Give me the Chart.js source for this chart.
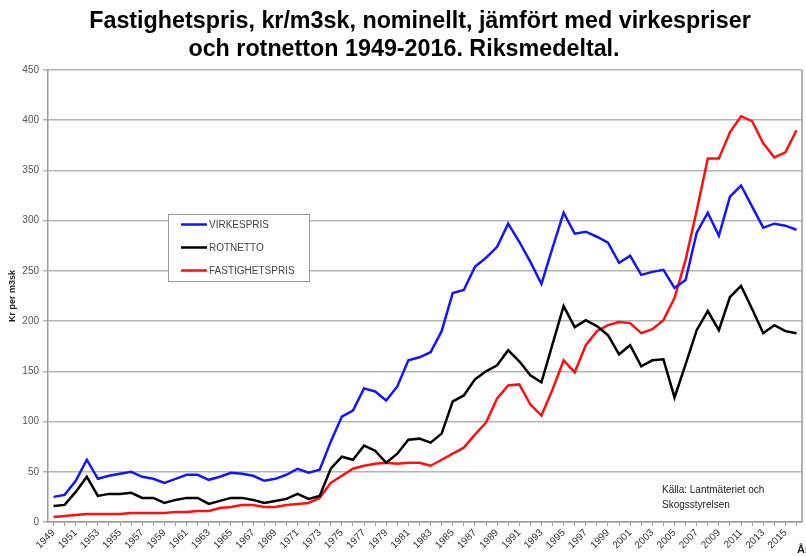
<!DOCTYPE html>
<html lang="sv">
<head>
<meta charset="utf-8">
<title>Fastighetspris, virkespris och rotnetto 1949-2016</title>
<script src="https://cdn.jsdelivr.net/npm/chart.js@4.4.1/dist/chart.umd.min.js"></script>
<style>
  html, body { margin: 0; padding: 0; background: #fff; }
  #wrap { width: 806px; height: 556px; position: relative; }
</style>
</head>
<body>
<div id="wrap"><canvas id="miGrafico"></canvas></div>
<script>
// Data (kr per m3sk, nominal)
const years = [
  1949, 1950, 1951, 1952, 1953, 1954, 1955, 1956, 1957, 1958, 1959, 1960,
  1961, 1962, 1963, 1964, 1965, 1966, 1967, 1968, 1969, 1970, 1971, 1972, 1973,
  1974, 1975, 1976, 1977, 1978, 1979, 1980, 1981, 1982, 1983, 1984, 1985, 1986,
  1987, 1988, 1989, 1990, 1991, 1992, 1993, 1994, 1995, 1996, 1997, 1998, 1999,
  2000, 2001, 2002, 2003, 2004, 2005, 2006, 2007, 2008, 2009, 2010, 2011, 2012,
  2013, 2014, 2015, 2016
];
const virkespris = [
  25, 27, 41, 62, 43, 46, 48, 50, 45, 43, 39, 43,
  47, 47, 42, 45, 49, 48, 46, 41, 43, 47, 53, 49, 52,
  80, 105, 111, 133, 130, 121, 135, 161, 164, 169, 190, 228, 231,
  254, 263, 274, 297, 279, 259, 237, 273, 308, 287, 289, 284, 278,
  258, 265, 246, 249, 251, 233, 241, 288, 308, 285, 324, 335, 314,
  293, 297, 295, 291
];
const rotnetto = [
  16, 17, 30, 45, 26, 28, 28, 29, 24, 24, 19, 22,
  24, 24, 18, 21, 24, 24, 22, 19, 21, 23, 28, 23, 26,
  53, 65, 62, 76, 71, 59, 68, 82, 83, 79, 88, 120, 126,
  142, 150, 156, 171, 160, 146, 139, 177, 215, 194, 201, 195, 186,
  167, 176, 155, 161, 162, 124, 157, 191, 210, 191, 224, 235, 212,
  188, 196, 190, 188
];
const fastighetspris = [
  5, 6, 7, 8, 8, 8, 8, 9, 9, 9, 9, 10,
  10, 11, 11, 14, 15, 17, 17, 15, 15, 17, 18, 19, 24,
  39, 46, 53, 56, 58, 59, 58, 59, 59, 56, 62, 68, 74,
  87, 99, 123, 136, 137, 117, 106, 132, 161, 149, 176, 190, 196,
  199, 198, 188, 192, 201, 223, 261, 310, 362, 362, 388, 404, 399,
  377, 363, 368, 390
];
const seriesNames = ['VIRKESPRIS', 'ROTNETTO', 'FASTIGHETSPRIS'];
const seriesColors = ['#1414ff', '#000000', '#ff1010'];

const titleLines = [
  'Fastighetspris, kr/m3sk, nominellt, jämfört med virkespriser',
  'och rotnetton 1949-2016. Riksmedeltal.'
];
const yLabel = 'Kr per m3sk';
const sourceLines = ['Källa: Lantmäteriet och', 'Skogsstyrelsen'];

const FONT = '"Liberation Sans", Arial, sans-serif';

// Extra drawing: title, axis label, legend box, source note, right border
const extras = {
  id: 'extras',
  afterDraw(chart) {
    const ctx = chart.ctx;
    const area = chart.chartArea;
    ctx.save();

    // right border of the plot
    ctx.strokeStyle = '#9a9a9a';
    ctx.lineWidth = 1.5;
    ctx.beginPath();
    ctx.moveTo(area.right, area.top);
    ctx.lineTo(area.right, area.bottom);
    ctx.stroke();

    // title
    ctx.fillStyle = '#000';
    ctx.font = 'bold 23.3px ' + FONT;
    ctx.textAlign = 'center';
    ctx.textBaseline = 'middle';
    ctx.fillText(titleLines[0], 420, 22);
    ctx.fillText(titleLines[1], 404, 50);

    // y axis label
    ctx.save();
    ctx.translate(13, 296);
    ctx.rotate(-Math.PI / 2);
    ctx.font = 'bold 9px ' + FONT;
    ctx.fillStyle = '#222';
    ctx.fillText(yLabel, 0, 0);
    ctx.restore();

    // legend box
    ctx.fillStyle = '#fff';
    ctx.fillRect(168, 214, 141, 67);
    ctx.strokeStyle = '#999';
    ctx.lineWidth = 1;
    ctx.strokeRect(168.5, 214.5, 141, 67);
    ctx.font = '10px ' + FONT;
    ctx.textAlign = 'left';
    chart.data.datasets.forEach((ds, i) => {
      const y = 224.5 + i * 23;
      ctx.strokeStyle = ds.borderColor;
      ctx.lineWidth = 2.5;
      ctx.beginPath();
      ctx.moveTo(181, y);
      ctx.lineTo(207, y);
      ctx.stroke();
      ctx.fillStyle = '#444';
      ctx.fillText(ds.label, 209, y + 0.5);
    });

    // source note
    ctx.fillStyle = '#222';
    ctx.font = '10px ' + FONT;
    ctx.fillText(sourceLines[0], 662, 490);
    ctx.fillText(sourceLines[1], 662, 505);

    // clipped axis title in the corner
    ctx.font = 'bold 11px ' + FONT;
    ctx.fillText('År', 797, 550);

    ctx.restore();
  }
};

// Build the chart
function crearGrafico() {
  const ctx = document.getElementById('miGrafico').getContext('2d');
  const series = [virkespris, rotnetto, fastighetspris];

  new Chart(ctx, {
    type: 'line',
    data: {
      labels: years,
      datasets: series.map((values, i) => ({
        label: seriesNames[i],
        data: values,
        borderColor: seriesColors[i],
        backgroundColor: seriesColors[i],
        borderWidth: 2.5,
        pointRadius: 0,
        tension: 0,
        fill: false
      }))
    },
    options: {
      responsive: true,
      maintainAspectRatio: false,
      animation: false,
      layout: { padding: { top: 70, right: 3, left: 0, bottom: 0 } },
      plugins: {
        legend: { display: false },
        title: { display: false },
        tooltip: { enabled: false }
      },
      scales: {
        x: {
          type: 'category',
          offset: true,
          afterFit: (scale) => { scale.height = 34; },
          border: { color: '#9a9a9a', width: 1.5 },
          grid: { drawOnChartArea: false, drawTicks: true, tickLength: 4, color: '#9a9a9a' },
          ticks: {
            autoSkip: false,
            maxRotation: 45,
            minRotation: 45,
            padding: 1,
            color: '#333',
            font: { family: FONT, size: 10 },
            callback: function (value, index) {
              return index % 2 === 0 ? this.getLabelForValue(value) : '';
            }
          }
        },
        y: {
          min: 0,
          max: 450,
          afterFit: (scale) => { scale.width = 48; },
          border: { color: '#9a9a9a', width: 1.5 },
          grid: { color: '#b4b4b4', lineWidth: 1.5, tickLength: 5 },
          ticks: {
            stepSize: 50,
            padding: 4,
            color: '#555',
            font: { family: FONT, size: 10 }
          }
        }
      }
    },
    plugins: [extras]
  });
}

document.addEventListener('DOMContentLoaded', crearGrafico);
</script>
</body>
</html>
